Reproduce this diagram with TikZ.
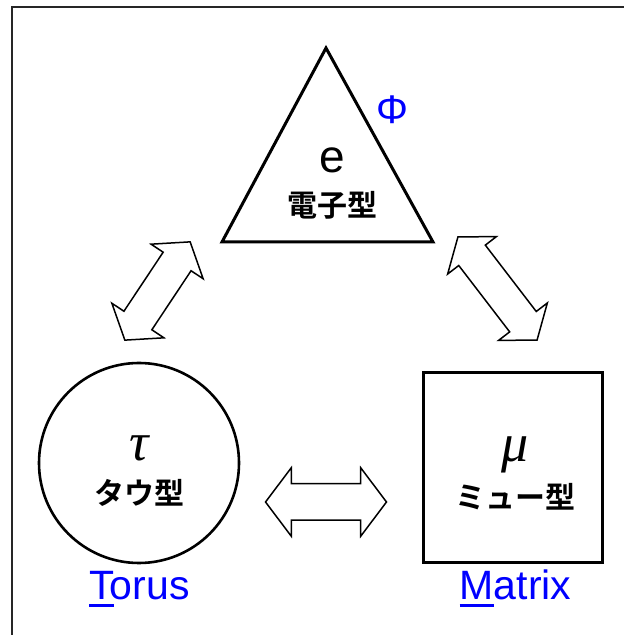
\documentclass[tikz,border=0pt]{standalone}
\usepackage{fontspec}
\setmainfont{Liberation Sans}
\newfontfamily\jpfont{Noto Sans CJK JP}[BoldFont={* Bold}]
\newfontfamily\grkfont{Liberation Serif}
\usetikzlibrary{shapes.geometric, shapes.arrows, positioning}

\begin{document}
\begin{tikzpicture}[x=1pt, y=1pt,
  typebox/.style = {draw=black, line width=3pt, fill=white},
  symtxt/.style  = {inner sep=0pt},
  grktxt/.style  = {inner sep=0pt, font=\grkfont\itshape\fontsize{54}{58}\selectfont},
  jptxt/.style   = {inner sep=0pt, font=\jpfont\bfseries\fontsize{30}{32}\selectfont},
  namelbl/.style = {inner sep=0pt, anchor=base, text=blue,
                    font=\fontsize{41}{44}\selectfont},
  dblarr/.style  = {double arrow, draw=black, line width=1.5pt, fill=white,
                    inner xsep=0pt, double arrow tip angle=106}
]
\useasboundingbox (0,0) rectangle (624,635);

%── frame ────────────────────────────────────────────────────────
\draw[line width=1.6pt, black!85] (12,0) -- (12,628) -- (624,628);

%── e : triangle ─────────────────────────────────────────────────
\coordinate (eTop) at (326,587);
\coordinate (eLeft) at (222,393);
\coordinate (eRight) at (433,393);
\draw[typebox, line join=miter] (eTop) -- (eLeft) -- (eRight) -- cycle;

\node[symtxt, font=\fontsize{46}{50}\selectfont] (esym) at (332,475) {e};
\node[jptxt] (ename) at (332,430) {電子型};
\node[symtxt, text=blue, font=\fontsize{40}{44}\selectfont] (phi) at (392,525) {Φ};

%── tau : circle ─────────────────────────────────────────────────
\node[typebox, circle, line width=2.6pt, minimum size=200pt] (tau) at (139,172) {};
\node[grktxt] (tausym) at ([yshift=15pt]tau.center) {τ};
\node[jptxt] (tauname) at ([yshift=-30pt]tau.center) {タウ型};
\node[namelbl] (torus) at (139.5,35)
  {\rlap{\rule[-7pt]{25pt}{3pt}}Torus};

%── mu : square ──────────────────────────────────────────────────
\node[typebox, rectangle, minimum width=179pt, minimum height=190pt] (mu) at (512.5,167) {};
\node[grktxt] (musym) at ([xshift=2.5pt, yshift=13pt]mu.center) {μ};
\node[jptxt] (muname) at ([xshift=2.5pt, yshift=-29pt]mu.center) {ミュー型};
\node[namelbl] (matrix) at (515.5,35)
  {\rlap{\rule[-7pt]{34pt}{3pt}}Matrix};

%── double arrows ────────────────────────────────────────────────
\node[dblarr, rotate=56.4, minimum height=118pt, inner ysep=16pt,
      double arrow head extend=14.5pt] (tauE) at (157.5,344) {};
\node[dblarr, rotate=-52.5, minimum height=130pt, inner ysep=16pt,
      double arrow head extend=14pt] (eMu) at (497.5,346.5) {};
\node[dblarr, minimum height=121pt, inner ysep=17.5pt,
      double arrow head extend=16pt] (tauMu) at (326,133) {};

\end{tikzpicture}
\end{document}
